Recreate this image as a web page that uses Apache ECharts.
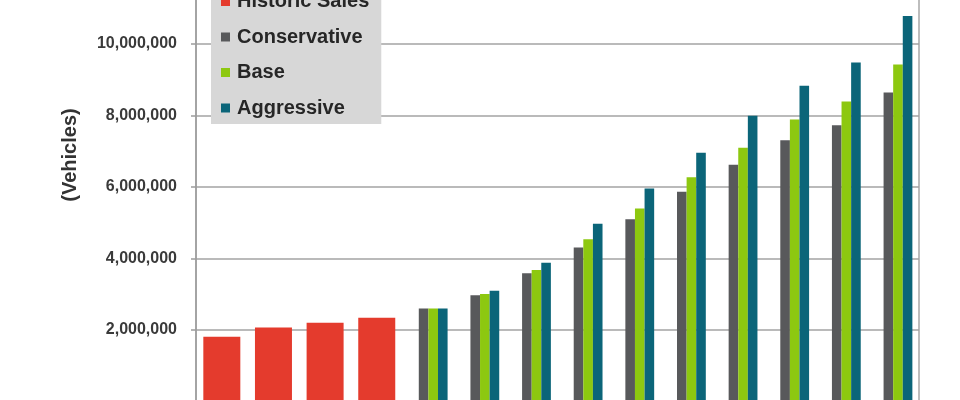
<!DOCTYPE html>
<html>
<head>
<meta charset="utf-8">
<script src="https://cdn.jsdelivr.net/npm/echarts@6/dist/echarts.min.js"></script>
<style>
html,body{margin:0;padding:0;background:#fff;}
#chart{width:960px;height:400px;}
</style>
</head>
<body>
<div id="chart"></div>
<script>
var categories = ['2008','2009','2010','2011','2012','2013','2014','2015','2016','2017','2018','2019','2020','2021'];
var historic = [1810000, 2070000, 2200000, 2340000, null, null, null, null, null, null, null, null, null, null];
var conservative = [null, null, null, null, 2600000, 2970000, 3590000, 4310000, 5100000, 5870000, 6620000, 7310000, 7730000, 8640000];
var base = [null, null, null, null, 2600000, 3010000, 3680000, 4540000, 5400000, 6270000, 7100000, 7890000, 8390000, 9430000];
var aggressive = [null, null, null, null, 2600000, 3100000, 3880000, 4970000, 5960000, 6960000, 7990000, 8830000, 9480000, 10780000];
var placeholder = categories.map(function(){ return null; });
var yTicks = { min: 0, max: 12000000, interval: 2000000 };

var FONT = 'Liberation Sans, Arial, sans-serif';
var chart = echarts.init(document.getElementById('chart'), null, {renderer: 'canvas'});
chart.setOption({
  backgroundColor: '#ffffff',
  animation: false,
  grid: {
    left: 196, right: 41, top: -27.5, bottom: -1.5,
    outerBoundsMode: 'none',
    containLabel: false,
    show: true, borderColor: '#a8a8a8', borderWidth: 1.5, backgroundColor: 'transparent'
  },
  legend: {
    data: ['Historic Sales', 'Conservative', 'Base', 'Aggressive'],
    orient: 'vertical',
    left: 211,
    top: -18.5,
    padding: [10, 12, 6, 10],
    itemGap: 15.5,
    itemWidth: 9,
    itemHeight: 9,
    icon: 'rect',
    backgroundColor: '#d7d7d7',
    textStyle: { fontFamily: FONT, fontSize: 20, fontWeight: 'bold', color: '#262626', lineHeight: 20, padding: [0, 0, 0, 2] }
  },
  graphic: [{
    type: 'text',
    x: 70, y: 155,
    rotation: Math.PI / 2,
    style: {
      text: '(Vehicles)',
      font: 'bold 20px ' + FONT,
      fill: '#333333',
      textAlign: 'center',
      textVerticalAlign: 'middle'
    }
  }],
  xAxis: [
    { type: 'category', data: categories, show: false, gridIndex: 0 },
    { type: 'category', data: categories, show: false, gridIndex: 0 }
  ],
  yAxis: {
    type: 'value',
    min: yTicks.min, max: yTicks.max, interval: yTicks.interval,
    axisLine: { show: true, lineStyle: { color: '#9c9c9c', width: 1.5 } },
    axisTick: { show: true, length: 5, lineStyle: { color: '#9c9c9c', width: 1.5 } },
    splitLine: { show: true, lineStyle: { color: '#a3a3a3', width: 1.5 } },
    axisLabel: {
      margin: 19,
      showMinLabel: false,
      fontFamily: FONT, fontSize: 16, fontWeight: 'bold', color: '#3a3a3a',
      formatter: function (v) { return v.toString().replace(/\B(?=(\d{3})+(?!\d))/g, ','); }
    }
  },
  series: [
    { name: 'Historic Sales', type: 'bar', xAxisIndex: 1, data: historic, barWidth: 37,
      itemStyle: { color: '#e43b2d' } },
    { name: '_pad', type: 'bar', xAxisIndex: 0, data: placeholder, barWidth: 9.6, barGap: 0,
      itemStyle: { color: 'transparent' } },
    { name: 'Conservative', type: 'bar', xAxisIndex: 0, data: conservative, barWidth: 9.6, barGap: 0,
      itemStyle: { color: '#58595b' } },
    { name: 'Base', type: 'bar', xAxisIndex: 0, data: base, barWidth: 9.6, barGap: 0,
      itemStyle: { color: '#8dc810' } },
    { name: 'Aggressive', type: 'bar', xAxisIndex: 0, data: aggressive, barWidth: 9.6, barGap: 0,
      itemStyle: { color: '#0b6579' } }
  ]
});
</script>
</body>
</html>
